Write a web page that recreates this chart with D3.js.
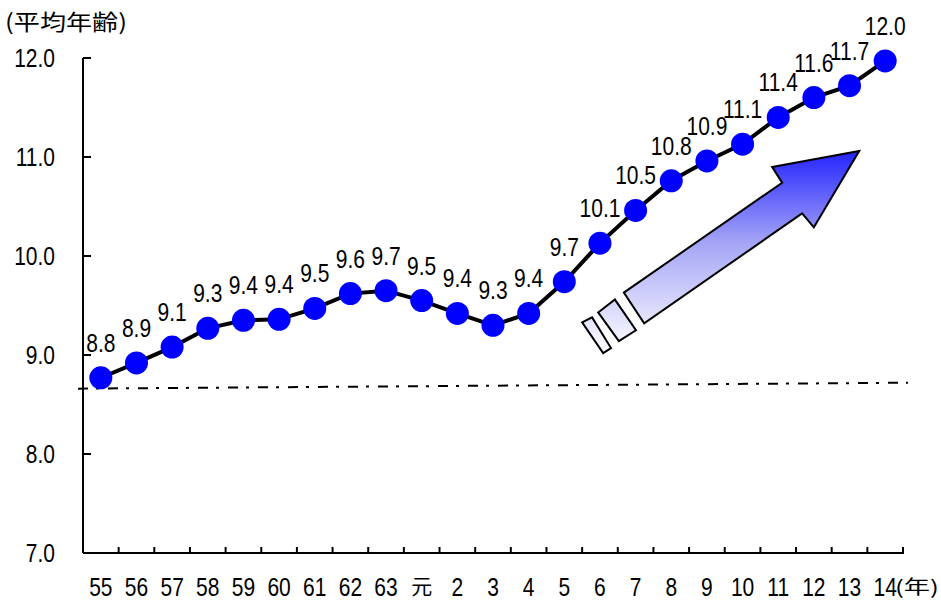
<!DOCTYPE html>
<html>
<head>
<meta charset="utf-8">
<script src="https://cdn.jsdelivr.net/npm/d3@7"></script>
<style>
  body { margin: 0; background: #fff; }
  text { font-family: "Liberation Sans", Arial, sans-serif; fill: #000; }
  .cjk { font-family: "Noto Sans CJK JP", sans-serif; }
</style>
</head>
<body>
<script>
// years (Showa 55 .. Heisei 14)
const years = ["55","56","57","58","59","60","61","62","63","元","2","3","4","5","6","7","8","9","10","11","12","13","14"];
// average age
const ages = [8.77,8.92,9.08,9.27,9.35,9.36,9.47,9.62,9.65,9.55,9.42,9.30,9.42,9.74,10.13,10.46,10.76,10.96,11.13,11.40,11.60,11.72,11.97];
// labels printed over the points
const ageLabels = ["8.8","8.9","9.1","9.3","9.4","9.4","9.5","9.6","9.7","9.5","9.4","9.3","9.4","9.7","10.1","10.5","10.8","10.9","11.1","11.4","11.6","11.7","12.0"];
const yTicks = [7, 8, 9, 10, 11, 12];
// dash-dot reference line, value at left and right end
const refLine = [8.66, 8.72];
// arrow outline in (category position, value)
const arrowPts = [[21.77,11.06],[19.33,10.90],[19.61,10.74],[15.17,9.63],[15.74,9.32],[20.17,10.43],[20.50,10.29]];
const boxA = [[14.45,9.43],[14.92,9.56],[15.51,9.25],[15.03,9.14]];
const boxB = [[14.00,9.33],[14.28,9.38],[14.81,9.07],[14.59,9.02]];

const w = 941, h = 602;
const mLeft = 83, mRight = 903, mTop = 58, mBottom = 553;
const stretch = 1.2;   // text in the picture is taller than wide

const svg = d3.select("body").append("svg")
  .attr("width", w).attr("height", h);

const x = d3.scaleBand().domain(years).range([mLeft, mRight]);
const xPos = d3.scaleLinear().domain([0, years.length]).range([mLeft, mRight]);
const y = d3.scaleLinear().domain([7, 12]).range([mBottom, mTop]);

// gradient for the arrow
const grad = svg.append("defs").append("linearGradient")
  .attr("id", "arrowGrad")
  .attr("gradientUnits", "userSpaceOnUse")
  .attr("x1", 0).attr("x2", 0)
  .attr("y1", y(11.06)).attr("y2", y(9.02));
grad.append("stop").attr("offset", "0%").attr("stop-color", "#2424ff");
grad.append("stop").attr("offset", "45%").attr("stop-color", "#a4a4f6");
grad.append("stop").attr("offset", "100%").attr("stop-color", "#ffffff");

function label(g, tx, ty, str, size, anchor, sy) {
  return g.append("text")
    .attr("transform", "translate(" + tx + "," + ty + ") scale(1," + sy + ")")
    .attr("text-anchor", anchor)
    .attr("font-size", size)
    .text(str);
}

// axes
svg.append("line").attr("x1", mLeft).attr("x2", mLeft).attr("y1", mTop).attr("y2", mBottom)
  .attr("stroke", "#000").attr("stroke-width", 2);
svg.append("line").attr("x1", mLeft).attr("x2", mRight + 1).attr("y1", mBottom).attr("y2", mBottom)
  .attr("stroke", "#000").attr("stroke-width", 2);

yTicks.forEach(t => {
  svg.append("line").attr("x1", mLeft).attr("x2", mLeft + 8).attr("y1", y(t)).attr("y2", y(t))
    .attr("stroke", "#000").attr("stroke-width", 2);
  label(svg, 55, y(t) + 9, t.toFixed(1), 21, "end", stretch);
});

years.forEach((yr, i) => {
  const bx = x(yr) + x.bandwidth();
  svg.append("line").attr("x1", bx).attr("x2", bx).attr("y1", mBottom).attr("y2", mBottom - 6)
    .attr("stroke", "#000").attr("stroke-width", 2);
  if (yr === "元") {
    label(svg, x(yr) + x.bandwidth() / 2, 594, yr, 21, "middle", 1).attr("class", "cjk");
  } else {
    label(svg, x(yr) + x.bandwidth() / 2, 596, yr, 21, "middle", stretch);
  }
});

// axis titles
svg.append("text").attr("x", 5).attr("y", 30).attr("font-size", 22).attr("class", "cjk")
  .attr("textLength", 122).attr("lengthAdjust", "spacingAndGlyphs")
  .text("(平均年齢)");
svg.append("text").attr("x", 895).attr("y", 594).attr("font-size", 19).attr("class", "cjk")
  .attr("textLength", 44).attr("lengthAdjust", "spacingAndGlyphs")
  .text("(年)");

// dash-dot reference line
svg.append("line")
  .attr("x1", mLeft - 5).attr("x2", mRight + 5)
  .attr("y1", y(refLine[0])).attr("y2", y(refLine[1]))
  .attr("stroke", "#000").attr("stroke-width", 2)
  .attr("stroke-dasharray", "10,8,3,9");

// arrow
const toPx = p => [xPos(p[0]), y(p[1])];
[arrowPts, boxA, boxB].forEach(pts => {
  svg.append("polygon")
    .attr("points", pts.map(toPx).map(p => p.join(",")).join(" "))
    .attr("fill", "url(#arrowGrad)")
    .attr("stroke", "#000").attr("stroke-width", 2)
    .attr("stroke-linejoin", "miter");
});

// line + points
const line = d3.line()
  .x((d, i) => x(years[i]) + x.bandwidth() / 2)
  .y(d => y(d));
svg.append("path").datum(ages)
  .attr("d", line)
  .attr("fill", "none").attr("stroke", "#000").attr("stroke-width", 4);

svg.selectAll("circle.pt").data(ages).enter().append("circle")
  .attr("class", "pt")
  .attr("cx", (d, i) => x(years[i]) + x.bandwidth() / 2)
  .attr("cy", d => y(d))
  .attr("r", 11.5)
  .attr("fill", "#0000ff");

ages.forEach((d, i) => {
  label(svg, x(years[i]) + x.bandwidth() / 2, y(d) - 26, ageLabels[i], 21, "middle", stretch);
});
</script>
</body>
</html>
